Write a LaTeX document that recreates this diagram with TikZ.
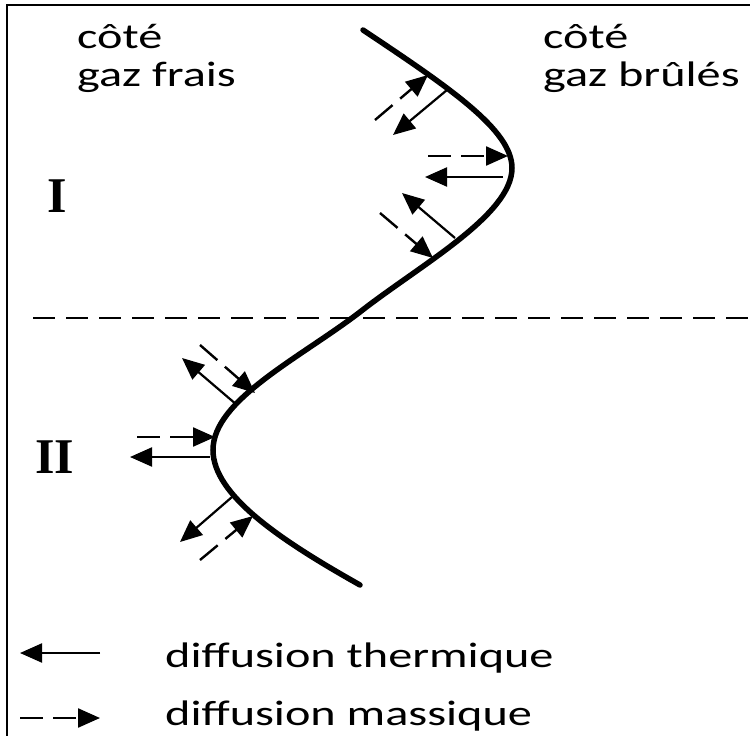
\documentclass[tikz,border=0pt]{standalone}
\usepackage{fontspec}
\usetikzlibrary{arrows.meta}
\newfontfamily\widefont[FakeStretch=1.36]{Carlito}
\newfontfamily\romfont{Liberation Serif}
\tikzset{
  lbl/.style={anchor=base west, inner sep=0pt, font=\widefont\fontsize{35.5}{40}\selectfont},
  rom/.style={anchor=base west, inner sep=0pt, font=\romfont\bfseries\fontsize{50}{54}\selectfont},
  front/.style={line width=5.5pt, line cap=round},
  thermo/.style={line width=2.2pt, -{Triangle[length=22pt,width=19pt]}},
  masse/.style={line width=2.4pt, dash pattern=on 23pt off 10pt, -{Triangle[length=22pt,width=19pt]}},
  frame/.style={line width=2.5pt}
}
\begin{document}
\begin{tikzpicture}[x=1pt,y=-1pt]
\useasboundingbox (0,0) rectangle (750,736);
% frame (top and left)
\coordinate (fTR) at (750,5);
\coordinate (fTL) at (7,5);
\coordinate (fBL) at (7,736);
\draw[frame] (fTR) -- (fTL) -- (fBL);
% separation line
\coordinate (sL) at (33,318);
\coordinate (sR) at (750,318);
\draw[line width=2pt, dash pattern=on 22pt off 11pt] (sL) -- (sR);
% flame front
\coordinate (c0) at (363,30);
\coordinate (c1) at (512,168);
\coordinate (c2) at (360,312);
\coordinate (c3) at (213,450);
\coordinate (c4) at (360,585);
\draw[front] (c0) .. controls (450,88) and (512,130) .. (c1)
  .. controls (512,215) and (420,265) .. (c2)
  .. controls (300,358) and (213,400) .. (c3)
  .. controls (213,495) and (280,540) .. (c4);
% labels
\node[lbl] (t1) at (77,48) {côté};
\node[lbl] (t2) at (77,86) {gaz frais};
\node[lbl] (t3) at (543,48) {côté};
\node[lbl] (t4) at (543,86) {gaz brûlés};
\node[rom] (r1) at (47,212) {I};
\node[rom] (r2) at (35,473) {II};
% region I arrows
\coordinate (a1s) at (447,90);  \coordinate (a1e) at (393,135);
\coordinate (b1s) at (375,120); \coordinate (b1e) at (428,75);
\coordinate (a2s) at (503,177); \coordinate (a2e) at (425,177);
\coordinate (b2s) at (428,156); \coordinate (b2e) at (508,156);
\coordinate (a3s) at (455,238); \coordinate (a3e) at (402,193);
\coordinate (b3s) at (380,213); \coordinate (b3e) at (433,258);
\draw[thermo] (a1s) -- (a1e);
\draw[masse] (b1s) -- (b1e);
\draw[thermo] (a2s) -- (a2e);
\draw[masse] (b2s) -- (b2e);
\draw[thermo] (a3s) -- (a3e);
\draw[masse] (b3s) -- (b3e);
% region II arrows
\coordinate (a4s) at (237,405); \coordinate (a4e) at (182,358);
\coordinate (b4s) at (200,345); \coordinate (b4e) at (255,393);
\coordinate (a5s) at (210,457); \coordinate (a5e) at (130,457);
\coordinate (b5s) at (137,437); \coordinate (b5e) at (215,437);
\coordinate (a6s) at (232,497); \coordinate (a6e) at (180,542);
\coordinate (b6s) at (200,560); \coordinate (b6e) at (253,516);
\draw[thermo] (a4s) -- (a4e);
\draw[masse] (b4s) -- (b4e);
\draw[thermo] (a5s) -- (a5e);
\draw[masse] (b5s) -- (b5e);
\draw[thermo] (a6s) -- (a6e);
\draw[masse] (b6s) -- (b6e);
% legend
\coordinate (l1s) at (100,653); \coordinate (l1e) at (20,653);
\coordinate (l2s) at (20,718);  \coordinate (l2e) at (100,718);
\draw[thermo] (l1s) -- (l1e);
\draw[masse] (l2s) -- (l2e);
\node[lbl] (leg1) at (165,667) {diffusion thermique};
\node[lbl] (leg2) at (165,725) {diffusion massique};
\end{tikzpicture}
\end{document}
